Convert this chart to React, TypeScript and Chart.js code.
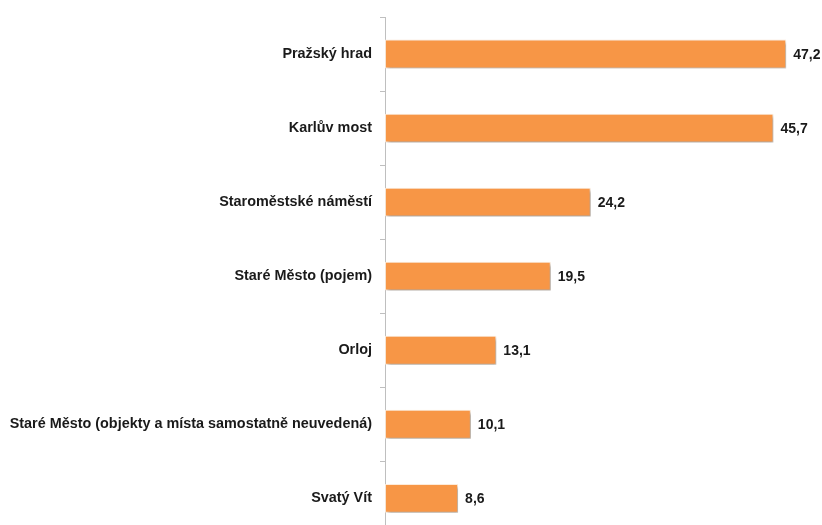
import React, { useEffect, useRef } from "react";
import { Chart, registerables } from "chart.js";

Chart.register(...registerables);

const categories = [
  "Pražský hrad",
  "Karlův most",
  "Staroměstské náměstí",
  "Staré Město (pojem)",
  "Orloj",
  "Staré Město (objekty a místa samostatně neuvedená)",
  "Svatý Vít",
];
const values = [47.2, 45.7, 24.2, 19.5, 13.1, 10.1, 8.6];

const FONT = "'Liberation Sans', Arial, sans-serif";

const shadowPlugin = {
  id: "barShadow",
  beforeDatasetsDraw(chart: any) {
    const ctx = chart.ctx;
    ctx.save();
    ctx.shadowColor = "rgba(0,0,0,0.35)";
    ctx.shadowOffsetX = 2;
    ctx.shadowOffsetY = 2;
    ctx.shadowBlur = 3;
  },
  afterDatasetsDraw(chart: any) {
    chart.ctx.restore();
  },
};

const valueLabelPlugin = {
  id: "valueLabels",
  afterDatasetsDraw(chart: any) {
    const ctx = chart.ctx;
    const meta = chart.getDatasetMeta(0);
    ctx.save();
    ctx.font = `bold 14px ${FONT}`;
    ctx.fillStyle = "#1a1a1a";
    ctx.textAlign = "left";
    ctx.textBaseline = "middle";
    meta.data.forEach((bar: any, i: number) => {
      const txt = values[i].toFixed(1).replace(".", ",");
      ctx.fillText(txt, bar.x + 7, bar.y + 1);
    });
    ctx.restore();
  },
};

export default function App() {
  const ref = useRef<HTMLCanvasElement | null>(null);
  useEffect(() => {
    if (!ref.current) return;
    const chart = new Chart(ref.current, {
      type: "bar",
      data: {
        labels: categories,
        datasets: [
          {
            data: values,
            backgroundColor: "#F79646",
            borderColor: "rgba(255,235,215,0.9)",
            borderWidth: 1,
            borderSkipped: false,
            categoryPercentage: 1,
            barPercentage: 0.39,
          },
        ],
      },
      options: {
        indexAxis: "y",
        animation: false,
        responsive: false,
        maintainAspectRatio: false,
        layout: { padding: { top: 17, right: 12, bottom: 6, left: 0 } },
        plugins: {
          legend: { display: false },
          tooltip: { enabled: false },
        },
        scales: {
          x: {
            display: false,
            min: 0,
            max: 50,
          },
          y: {
            afterFit(scale: any) {
              scale.width = 385;
            },
            grid: {
              offset: true,
              drawOnChartArea: false,
              drawTicks: true,
              tickLength: 5,
              color: "#bfbfbf",
            },
            border: { display: true, color: "#bfbfbf", width: 1 },
            ticks: {
              padding: 8,
              color: "#1a1a1a",
              font: { family: FONT, size: 14.4, weight: "bold" },
            },
          },
        },
      },
      plugins: [shadowPlugin, valueLabelPlugin],
    });
    return () => chart.destroy();
  }, []);
  return (
    <div
      style={{
        position: "fixed",
        left: 0,
        top: 0,
        width: 822,
        height: 525,
        overflow: "hidden",
        background: "#fff",
      }}
    >
      <canvas ref={ref} width={822} height={552} style={{ display: "block" }} />
    </div>
  );
}
